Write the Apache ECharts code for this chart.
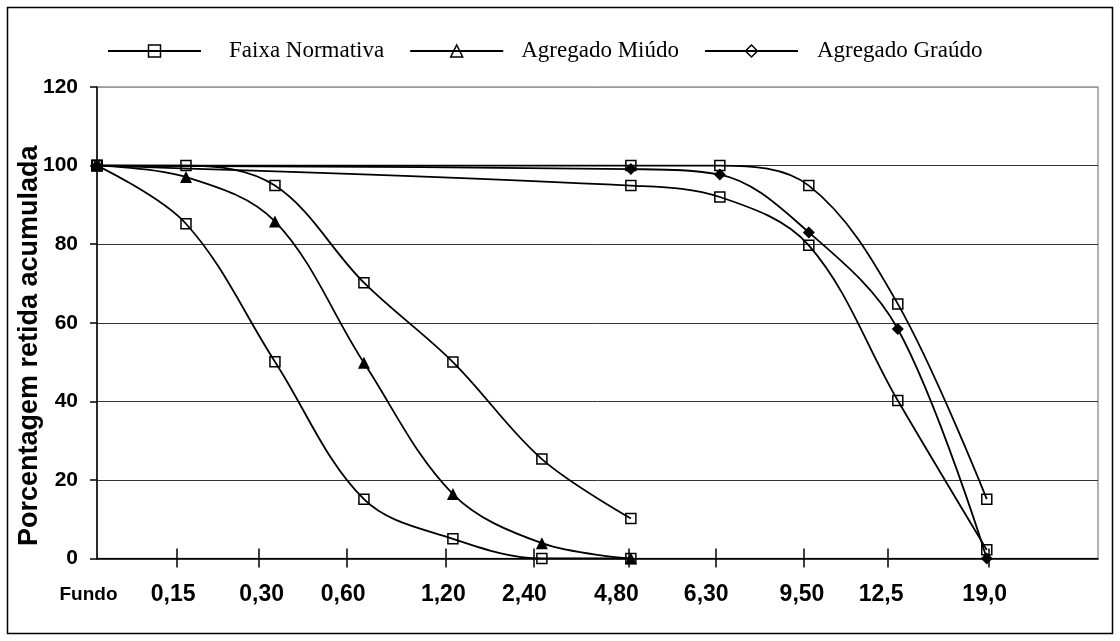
<!DOCTYPE html>
<html>
<head>
<meta charset="utf-8">
<script src="https://cdn.jsdelivr.net/npm/echarts@6/dist/echarts.min.js"></script>
<style>
html,body{margin:0;padding:0;background:#fff;}
#c{width:1120px;height:641px;}
</style>
</head>
<body>
<div id="c"></div>
<script>
// Sieve labels (x axis), tick positions and label positions in axis units
const sieveLabels = ['Fundo', '0,15', '0,30', '0,60', '1,20', '2,40', '4,80', '6,30', '9,50', '12,5', '19,0'];
const sieveTickPos = [0.897, 1.814, 2.809, 3.915, 4.91, 5.977, 6.952, 7.947, 8.883, 10.026];
const sieveLabelPos = [0, 0.855, 1.85, 2.767, 3.892, 4.803, 5.838, 6.847, 7.923, 8.813, 9.977];

// x positions of measured points (sieve index)
const xFine = [0, 1, 2, 3, 4, 5, 6];
const xCoarse = [0, 6, 7, 8, 9, 10];

// Faixa Normativa (four limit curves)
const faixaFinaLimiteA = [100, 85.2, 50.1, 15.1, 5.0, 0, 0];
const faixaFinaLimiteB = [100, 100, 94.9, 70.2, 50.0, 25.3, 10.2];
const faixaGraudaLimiteA = [100, 100, 100, 94.9, 64.8, 15.1];
const faixaGraudaLimiteB = [100, 94.9, 92.0, 79.7, 40.2, 2.2];

// Measured aggregates
const agregadoMiudo = [100, 97.1, 85.8, 49.8, 16.4, 3.9, 0];
const agregadoGraudo = [100, 99.1, 97.7, 83.0, 58.4, 0];

const pair = (xs, ys) => xs.map((x, i) => [x, ys[i]]);

const lineStyle = { color: '#000', width: 1.8 };
const squareItem = { color: 'rgba(0,0,0,0)', borderColor: '#000', borderWidth: 1.5 };
const SMOOTH = 0.35;

function faixa(xs, ys) {
  return {
    name: 'Faixa Normativa', type: 'line', data: pair(xs, ys),
    smooth: SMOOTH, symbol: 'rect', symbolSize: 10,
    lineStyle: lineStyle, itemStyle: squareItem,
    emphasis: { disabled: true }, z: 3
  };
}

const chart = echarts.init(document.getElementById('c'), null, { renderer: 'canvas' });

const tickLine = { color: '#000', width: 1.5 };
const legendFont = '"Liberation Serif", "Times New Roman", serif';
const hollow = { color: 'rgba(0,0,0,0)', borderColor: '#000', borderWidth: 1.5 };

chart.setOption({
  animation: false,
  backgroundColor: '#fff',
  graphic: [{
    type: 'rect', silent: true, z: 0,
    shape: { x: 7.5, y: 7.5, width: 1105, height: 626 },
    style: { fill: null, stroke: '#000', lineWidth: 1.5 }
  }],
  legend: {
    left: 107, top: 35, padding: 0,
    itemWidth: 93, itemHeight: 15, itemGap: 25,
    data: [
      { name: 'Faixa Normativa', itemStyle: hollow, textStyle: { padding: [6, 0, 0, 23] } },
      { name: 'Agregado Miúdo', itemStyle: hollow, textStyle: { padding: [6, 0, 0, 13] } },
      { name: 'Agregado Graúdo', itemStyle: hollow, textStyle: { padding: [6, 0, 0, 14] } }
    ],
    textStyle: {
      fontFamily: legendFont,
      fontSize: 23, color: '#000', lineHeight: 26
    },
    selectedMode: false
  },
  grid: {
    left: 97, right: 22, top: 87, bottom: 82.5,
    show: true, borderColor: '#999', borderWidth: 1.5, backgroundColor: 'transparent',
    containLabel: false, outerBoundsMode: 'none'
  },
  xAxis: [{
    type: 'value', min: 0, max: 11.25, position: 'bottom',
    axisLine: { show: true, onZero: false, lineStyle: tickLine },
    axisTick: { show: true, inside: false, length: 9, customValues: sieveTickPos, lineStyle: tickLine },
    axisLabel: {
      show: true, margin: 25, showMinLabel: true, showMaxLabel: true,
      customValues: sieveLabelPos,
      formatter: function (v) {
        let i = sieveLabelPos.indexOf(v);
        if (i < 0) {
          let best = 0, bd = 1e9;
          sieveLabelPos.forEach((p, k) => { if (Math.abs(p - v) < bd) { bd = Math.abs(p - v); best = k; } });
          i = best;
        }
        return i === 0 ? '{f|' + sieveLabels[i] + '}' : '{n|' + sieveLabels[i] + '}';
      },
      rich: {
        f: { fontFamily: '"Liberation Sans", Arial, sans-serif', fontWeight: 'bold', fontSize: 19, color: '#000', width: 75, align: 'left', lineHeight: 22 },
        n: { fontFamily: '"Liberation Sans", Arial, sans-serif', fontWeight: 'bold', fontSize: 23, color: '#000', lineHeight: 22 }
      }
    },
    splitLine: { show: false }
  }, {
    type: 'value', min: 0, max: 11.25, position: 'top', offset: -471.5,
    axisLine: { show: false, onZero: false },
    axisTick: { show: true, inside: false, length: 10, customValues: sieveTickPos, lineStyle: tickLine },
    axisLabel: { show: false },
    splitLine: { show: false }
  }],
  yAxis: {
    type: 'value', min: 0, max: 120, interval: 20,
    name: 'Porcentagem retida acumulada',
    nameLocation: 'middle', nameRotate: 90, nameGap: 54, nameMoveOverlap: false,
    nameTextStyle: {
      fontFamily: '"Liberation Sans", Arial, sans-serif', fontWeight: 'bold',
      fontSize: 27, color: '#000', padding: [0, 46, 0, 0]
    },
    axisLine: { show: true, lineStyle: tickLine },
    axisTick: { show: true, inside: false, length: 7, lineStyle: tickLine },
    axisLabel: {
      margin: 19, fontFamily: '"Liberation Sans", Arial, sans-serif', fontWeight: 'bold',
      fontSize: 21, color: '#000',
      formatter: function (v) { return String(v); }
    },
    splitLine: {
      show: true,
      lineStyle: { color: ['#000', '#333', '#333', '#333', '#333', '#333', '#999'], width: 1 }
    }
  },
  series: [
    faixa(xFine, faixaFinaLimiteA),
    faixa(xFine, faixaFinaLimiteB),
    faixa(xCoarse, faixaGraudaLimiteA),
    faixa(xCoarse, faixaGraudaLimiteB),
    {
      name: 'Agregado Miúdo', type: 'line', data: pair(xFine, agregadoMiudo),
      smooth: SMOOTH, symbol: 'triangle', symbolSize: 12,
      lineStyle: lineStyle, itemStyle: { color: '#000', borderColor: '#000', borderWidth: 0 },
      emphasis: { disabled: true }, z: 3
    },
    {
      name: 'Agregado Graúdo', type: 'line', data: pair(xCoarse, agregadoGraudo),
      smooth: SMOOTH, symbol: 'diamond', symbolSize: 12,
      lineStyle: lineStyle, itemStyle: { color: '#000', borderColor: '#000', borderWidth: 0 },
      emphasis: { disabled: true }, z: 3
    }
  ]
});
</script>
</body>
</html>
